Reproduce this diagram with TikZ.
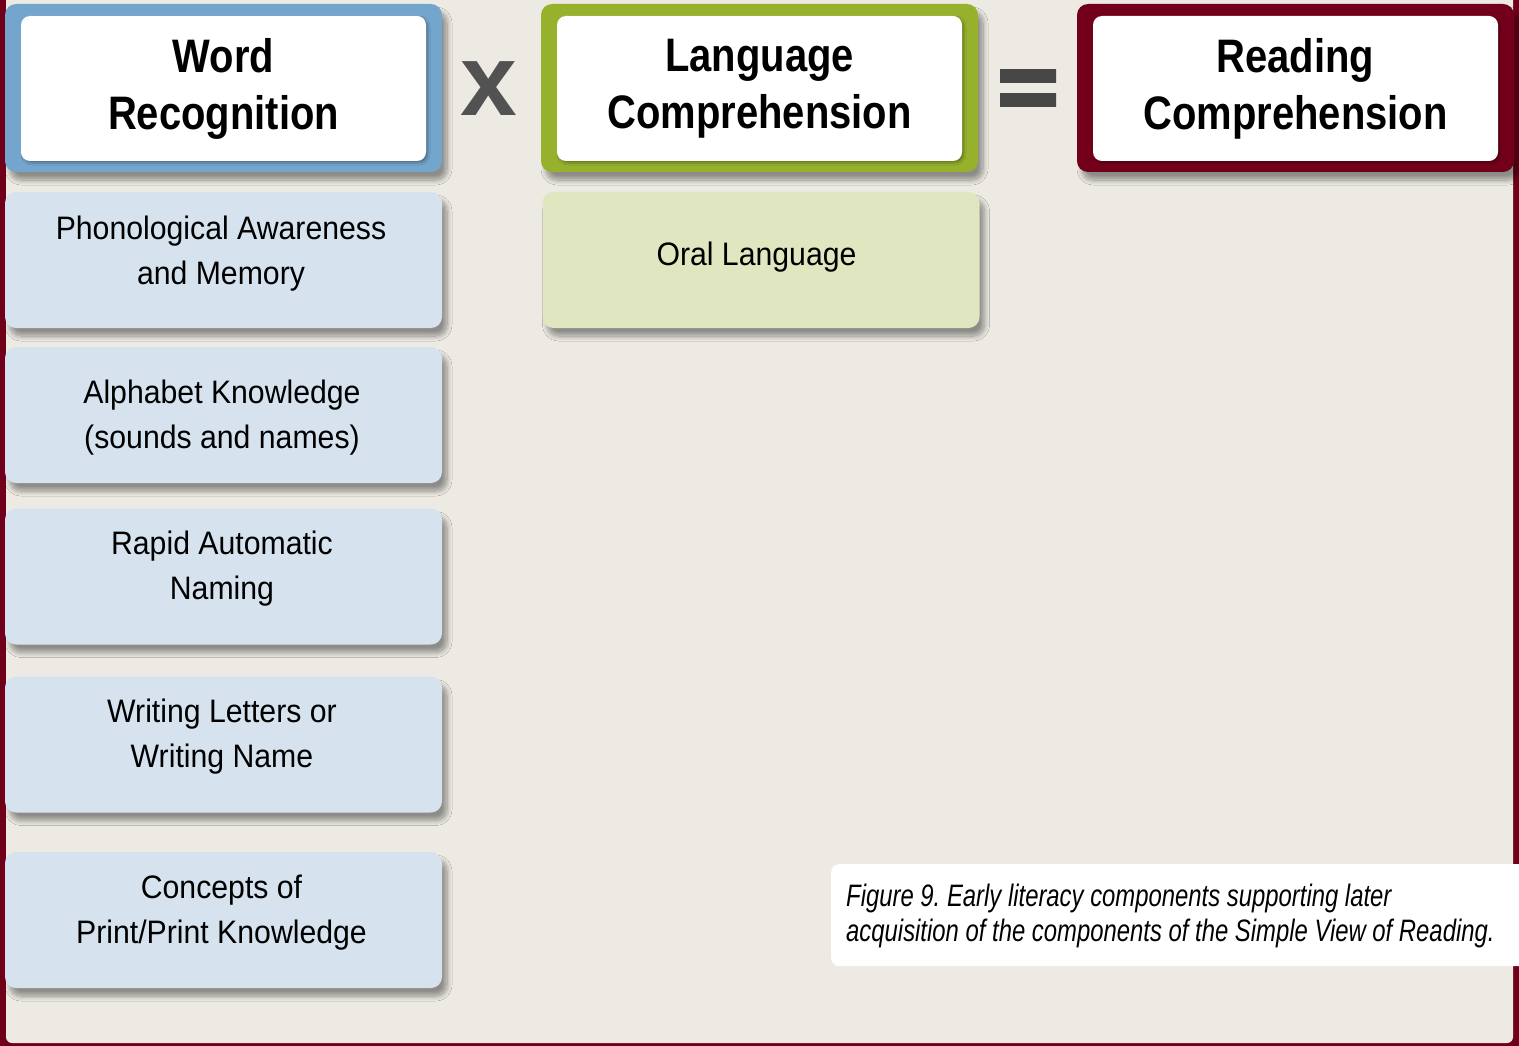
\documentclass[tikz,border=0pt]{standalone}
\usepackage{fontspec}
\setmainfont{Liberation Sans}
\newfontfamily\headfont{Liberation Sans}[FakeStretch=0.85]
\newfontfamily\itemfont{Liberation Sans}[FakeStretch=0.93]
\newfontfamily\capfont{Liberation Sans}[FakeStretch=0.77]
\usetikzlibrary{shadows.blur}
\frenchspacing
\definecolor{paper}{RGB}{237,234,227}
\definecolor{border}{RGB}{112,0,26}
\definecolor{wrblue}{RGB}{116,165,204}
\definecolor{lcgreen}{RGB}{150,178,45}
\definecolor{rcred}{RGB}{115,0,26}
\definecolor{paleblue}{RGB}{214,227,238}
\definecolor{palegreen}{RGB}{223,230,192}
\definecolor{signgray}{RGB}{82,82,82}
\tikzset{
  frame box/.style={rounded corners=11pt, minimum width=437pt, minimum height=168pt, inner sep=0pt,
    blur shadow={shadow xshift=5pt, shadow yshift=-8pt, shadow blur radius=5pt, shadow blur steps=10, shadow opacity=40}},
  head box/.style={fill=white, rounded corners=9pt, minimum width=405pt, minimum height=145pt,
    inner sep=0pt, align=center, font=\headfont\bfseries\fontsize{47}{57}\selectfont,
    blur shadow={shadow xshift=2pt, shadow yshift=-2pt, shadow blur radius=2pt, shadow opacity=30}},
  item box/.style={rounded corners=11pt, minimum width=437pt, minimum height=136pt, inner sep=0pt,
    blur shadow={shadow xshift=5pt, shadow yshift=-8pt, shadow blur radius=5pt, shadow blur steps=10, shadow opacity=40}},
  item text/.style={inner sep=0pt, align=center, font=\itemfont\fontsize{32.5}{45}\selectfont},
  op sign/.style={inner sep=0pt, text=signgray, font=\bfseries\fontsize{102}{102}\selectfont},
  bar shade/.style={top color=black!72, middle color=black!60, bottom color=black!72},
}
\begin{document}
\begin{tikzpicture}[x=1pt,y=-1pt]
\useasboundingbox (0,0) rectangle (1519,1046);
\fill[border] (0,0) rectangle (1519,1046);
\fill[paper,rounded corners=6pt] (6,-20) rectangle (1513,1043);

\node[frame box,fill=wrblue] (wr-frame) at (223.5,88) {};
\node[head box] (wr) at (223.5,88.5) {Word\\Recognition};
\node[frame box,fill=lcgreen] (lc-frame) at (759.5,88) {};
\node[head box] (lc) at (759.5,88.5) {Language\\Comprehension};
\node[frame box,fill=rcred] (rc-frame) at (1295.5,88) {};
\node[head box] (rc) at (1295.5,88.5) {Reading\\Comprehension};

\node[op sign] (times) at (489,88.5) {x};
\shade[bar shade] (1000,70) rectangle (1056,83);
\shade[bar shade] (1000,94) rectangle (1056,107);

\node[item box,fill=paleblue] (pa) at (223.5,260) {};
\node[item text] (pa-text) at (221,253.5) {Phonological Awareness\\and Memory};
\node[item box,fill=paleblue] (ak) at (223.5,415) {};
\node[item text] (ak-text) at (222,417.5) {Alphabet Knowledge\\(sounds and names)};
\node[item box,fill=paleblue] (ran) at (223.5,576.5) {};
\node[item text] (ran-text) at (222,568.5) {Rapid Automatic\\Naming};
\node[item box,fill=paleblue] (wl) at (223.5,744.5) {};
\node[item text] (wl-text) at (222,736.5) {Writing Letters or\\Writing Name};
\node[item box,fill=paleblue] (cp) at (223.5,920) {};
\node[item text] (cp-text) at (221.5,912.5) {Concepts of\\Print/Print Knowledge};
\node[item box,fill=palegreen] (ol) at (761,260) {};
\node[item text] (ol-text) at (756.5,257) {Oral Language};

\node[fill=white,rounded corners=8pt,minimum width=720pt,minimum height=102pt,inner sep=0pt,anchor=north west] (cap-box) at (831,864) {};
\node[anchor=west,align=left,inner sep=0pt,font=\capfont\itshape\fontsize{31}{35}\selectfont] (caption) at (846,916)
  {Figure 9. Early literacy components supporting later\\acquisition of the components of the Simple View of Reading.};
\end{tikzpicture}
\end{document}
